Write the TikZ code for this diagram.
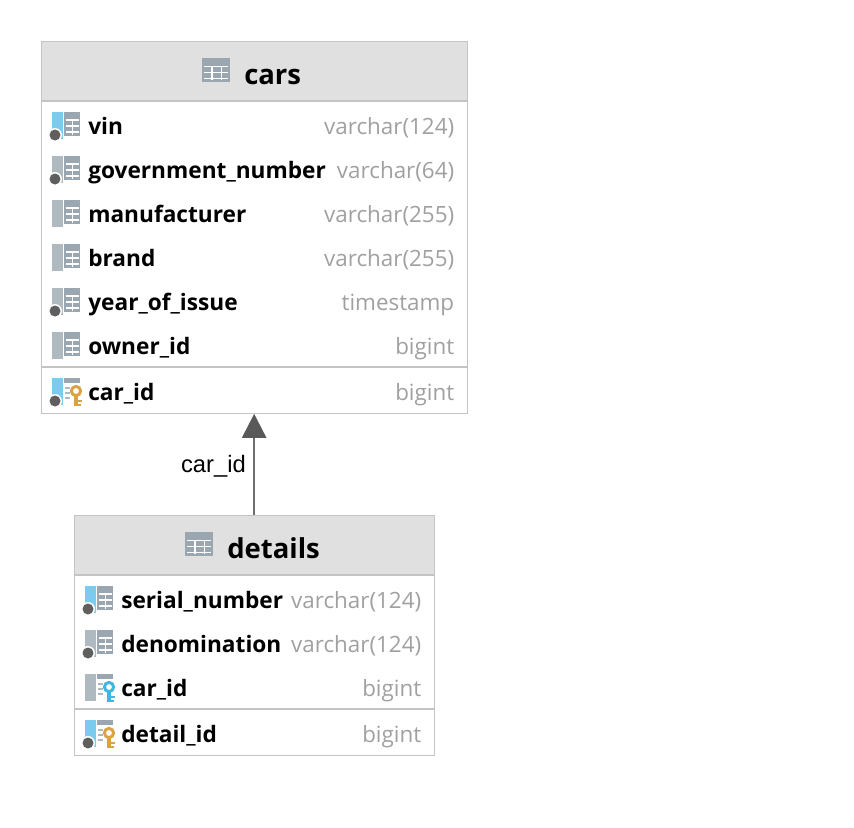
\documentclass[tikz,border=0pt]{standalone}
\usepackage{fontspec}
\setmainfont{Open Sans}
\newfontfamily\labelfont{Liberation Sans}
\usetikzlibrary{arrows.meta}
\definecolor{hdr}{HTML}{E0E0E0}
\definecolor{edge}{HTML}{C4C4C4}
\definecolor{icongray}{HTML}{AEB9C0}
\definecolor{tablegray}{HTML}{9AA7B0}
\definecolor{iconblue}{HTML}{7BCBEE}
\definecolor{keyblue}{HTML}{40B6E0}
\definecolor{keygold}{HTML}{D9A343}
\definecolor{dotgray}{HTML}{5F5F5F}
\definecolor{typegray}{HTML}{A0A0A0}
\tikzset{
  x=0.75pt,y=-0.75pt,
  box/.style={draw=edge,line width=1pt,inner sep=0pt,minimum width=#1},
  title/.style={font=\fontsize{20.6pt}{24pt}\selectfont\bfseries,anchor=base west,inner sep=0pt,text=black},
  colname/.style={font=\fontsize{17pt}{20pt}\selectfont\bfseries,anchor=base west,inner sep=0pt,text=black},
  coltype/.style={font=\fontsize{16.8pt}{20pt}\selectfont,anchor=base east,inner sep=0pt,text=typegray},
  sep/.style={draw=edge,line width=1.2pt},
  relation/.style={draw=black!57,line width=1.8pt,-{Triangle[length=18pt,width=18pt,color=black!65]}},
  reltext/.style={font=\labelfont\fontsize{17.8pt}{20pt}\selectfont,anchor=base east,inner sep=0pt,text=black},
  pics/tbl/.style={code={
    \fill[tablegray] (0,0) rectangle (28,24);
    \foreach \u in {7.5,13.5,19.5}{\fill[white] (2,\u) rectangle (26,\u+1.5);}
    \foreach \u in {9,18.5}{\fill[white] (\u,7.5) rectangle (\u+1.5,22);}
  }},
  pics/fullcol/.style={code={
    \fill[#1] (0,0) rectangle (10.5,27);
    \fill[tablegray] (12,0) rectangle (28,24);
    \foreach \u in {7,13,19}{\fill[white] (13.5,\u) rectangle (26.5,\u+1.5);}
    \fill[white] (19.5,7) rectangle (21,22.5);
  }},
  pics/dot/.style={code={
    \fill[white] (3,23) circle (7);
    \fill[dotgray] (3,23) circle (5.5);
  }},
  pics/keycol/.style={code={
    \fill[#1] (0,0) rectangle (10.5,27);
    \fill[tablegray] (12,0) rectangle (28,5);
    \foreach \u in {9,14,19}{\fill[icongray] (13,\u) rectangle (18,\u+2);}
  }},
  pics/keyicon/.style={code={
    \draw[#1,line width=2.2pt] (24,15) circle (4.6);
    \fill[#1] (22.2,20) rectangle (25.8,30);
    \fill[#1] (25,23.5) rectangle (30,26);
    \fill[#1] (25,27.5) rectangle (29,30);
  }},
}
\begin{document}
\begin{tikzpicture}
\useasboundingbox (0,0) rectangle (854,828);
% cars
\fill[hdr] (40.5,40.5) rectangle (466.5,101);
\node[box=426*0.75pt,minimum height=372*0.75pt,anchor=north west] (cars) at (40.5,40.5) {};
\draw[sep] (40.5,101) -- (466.5,101);
\pic at (202,58) {tbl};
\node[title] (carsname) at (244,84) {cars};
\draw[sep] (40.5,367) -- (466.5,367);
% cars rows
\pic at (52,112) {fullcol=iconblue}; \pic at (52,112) {dot};
\node[colname] (c1) at (88,134) {vin};
\node[coltype] (t1) at (454.5,134) {varchar(124)};
\pic at (52,156) {fullcol=icongray}; \pic at (52,156) {dot};
\node[colname] (c2) at (88,178) {government\_number};
\node[coltype] (t2) at (454.5,178) {varchar(64)};
\pic at (52,200) {fullcol=icongray};
\node[colname] (c3) at (88,222) {manufacturer};
\node[coltype] (t3) at (454.5,222) {varchar(255)};
\pic at (52,244) {fullcol=icongray};
\node[colname] (c4) at (88,266) {brand};
\node[coltype] (t4) at (454.5,266) {varchar(255)};
\pic at (52,288) {fullcol=icongray}; \pic at (52,288) {dot};
\node[colname] (c5) at (88,310) {year\_of\_issue};
\node[coltype] (t5) at (454.5,310) {timestamp};
\pic at (52,332) {fullcol=icongray};
\node[colname] (c6) at (88,354) {owner\_id};
\node[coltype] (t6) at (454.5,354) {bigint};
\pic at (52,378) {keycol=iconblue}; \pic at (52,378) {dot}; \pic at (52,376) {keyicon=keygold};
\node[colname] (c7) at (88,400) {car\_id};
\node[coltype] (t7) at (454.5,400) {bigint};
% details
\fill[hdr] (73.5,514.5) rectangle (433.5,575);
\node[box=360*0.75pt,minimum height=240*0.75pt,anchor=north west] (details) at (73.5,514.5) {};
\draw[sep] (73.5,575) -- (433.5,575);
\pic at (185,532) {tbl};
\node[title] (detailsname) at (227,558) {details};
\draw[sep] (73.5,709) -- (433.5,709);
\pic at (85,586) {fullcol=iconblue}; \pic at (85,586) {dot};
\node[colname] (d1) at (121,608) {serial\_number};
\node[coltype] (u1) at (421.5,608) {varchar(124)};
\pic at (85,630) {fullcol=icongray}; \pic at (85,630) {dot};
\node[colname] (d2) at (121,652) {denomination};
\node[coltype] (u2) at (421.5,652) {varchar(124)};
\pic at (85,674) {keycol=icongray}; \pic at (85,672) {keyicon=keyblue};
\node[colname] (d3) at (121,696) {car\_id};
\node[coltype] (u3) at (421.5,696) {bigint};
\pic at (85,720) {keycol=iconblue}; \pic at (85,720) {dot}; \pic at (85,718) {keyicon=keygold};
\node[colname] (d4) at (121,742) {detail\_id};
\node[coltype] (u4) at (421.5,742) {bigint};
% relation
\draw[relation] (details.north) -- (cars.south);
\node[reltext] (rel) at (246,472) {car\_id};
\end{tikzpicture}
\end{document}
